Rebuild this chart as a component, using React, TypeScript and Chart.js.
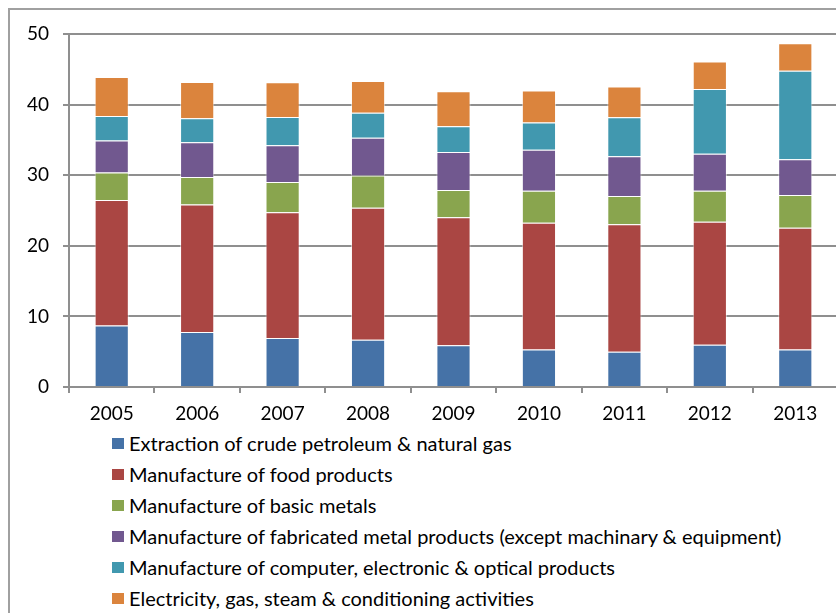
import React, { useEffect, useRef } from "react";
import { Chart, registerables } from "chart.js";

Chart.register(...registerables);

const years = ["2005", "2006", "2007", "2008", "2009", "2010", "2011", "2012", "2013"];
const seriesNames = [
  "Extraction of crude petroleum & natural gas",
  "Manufacture of food products",
  "Manufacture of basic metals",
  "Manufacture of fabricated metal products (except machinary & equipment)",
  "Manufacture of computer, electronic & optical products",
  "Electricity, gas, steam & conditioning activities",
];
const extraction = [8.7, 7.8, 6.95, 6.7, 5.9, 5.3, 5.0, 6.0, 5.3];
const food = [17.8, 18.05, 17.8, 18.7, 18.15, 17.95, 18.05, 17.4, 17.25];
const basicMetals = [3.9, 3.9, 4.3, 4.55, 3.85, 4.55, 4.0, 4.4, 4.65];
const fabricated = [4.5, 4.9, 5.2, 5.35, 5.4, 5.8, 5.65, 5.25, 5.05];
const computer = [3.5, 3.4, 4.0, 3.55, 3.65, 3.85, 5.5, 9.15, 12.55];
const electricity = [5.5, 5.15, 4.9, 4.5, 4.95, 4.55, 4.35, 3.9, 3.9];
const colors = ["#4572A7", "#AA4643", "#89A54E", "#71588F", "#4198AF", "#DB843D"];
const yTicks = [0, 10, 20, 30, 40, 50];

const FONT = "Lato, 'Open Sans', sans-serif";

export default function App() {
  const ref = useRef<HTMLCanvasElement | null>(null);
  useEffect(() => {
    if (!ref.current) return;
    const values = [extraction, food, basicMetals, fabricated, computer, electricity];
    const chart = new Chart(ref.current, {
      type: "bar",
      data: {
        labels: years,
        datasets: values.map((v, i) => ({
          label: seriesNames[i],
          data: v,
          backgroundColor: colors[i],
          borderColor: "rgba(255,255,255,0.55)",
          borderWidth: 1,
          barPercentage: 0.4,
          categoryPercentage: 1,
        })),
      },
      options: {
        animation: false,
        responsive: false,
        maintainAspectRatio: false,
        layout: { padding: { top: 34, right: 0, left: 0, bottom: 0 } },
        plugins: { legend: { display: false }, tooltip: { enabled: false } },
        scales: {
          x: {
            stacked: true,
            grid: {
              offset: true,
              drawOnChartArea: false,
              drawTicks: true,
              tickLength: 6,
              color: "#8f8f8f",
              lineWidth: 2,
            },
            border: { display: true, color: "#8f8f8f", width: 2 },
            ticks: {
              color: "#000",
              font: { family: FONT, size: 19 },
              padding: 9,
              maxRotation: 0,
            },
            afterFit: (s: any) => {
              s.height = 33;
            },
          },
          y: {
            stacked: true,
            min: 0,
            max: 50,
            afterBuildTicks: (s: any) => {
              s.ticks = yTicks.map((v) => ({ value: v }));
            },
            grid: { color: "#8f8f8f", lineWidth: 2, tickLength: 6 },
            border: { display: true, color: "#8f8f8f", width: 2 },
            ticks: {
              color: "#000",
              font: { family: FONT, size: 19 },
              padding: 14,
            },
            afterFit: (s: any) => {
              s.width = 69;
            },
          },
        },
      },
    });
    return () => chart.destroy();
  }, []);

  return (
    <div
      style={{
        position: "fixed",
        left: 0,
        top: 0,
        width: 836,
        height: 613,
        overflow: "hidden",
        background: "#fff",
      }}
    >
      <div
        style={{
          position: "absolute",
          left: 8,
          top: 8,
          width: 900,
          height: 700,
          border: "2px solid #a0a0a0",
          boxSizing: "border-box",
        }}
      />
      <canvas
        ref={ref}
        width={838}
        height={420}
        style={{ position: "absolute", left: 0, top: 0, width: 838, height: 420 }}
      />
      {seriesNames.map((n, i) => (
        <div
          key={n}
          style={{
            position: "absolute",
            left: 112,
            top: 443 + 31 * i - 14,
            height: 28,
            display: "flex",
            alignItems: "center",
            whiteSpace: "nowrap",
            fontFamily: FONT,
            fontSize: 20,
            color: "#000",
          }}
        >
          <span
            style={{
              display: "inline-block",
              width: 12,
              height: 11,
              background: colors[i],
              marginRight: 5,
            }}
          />
          <span>{n}</span>
        </div>
      ))}
    </div>
  );
}
